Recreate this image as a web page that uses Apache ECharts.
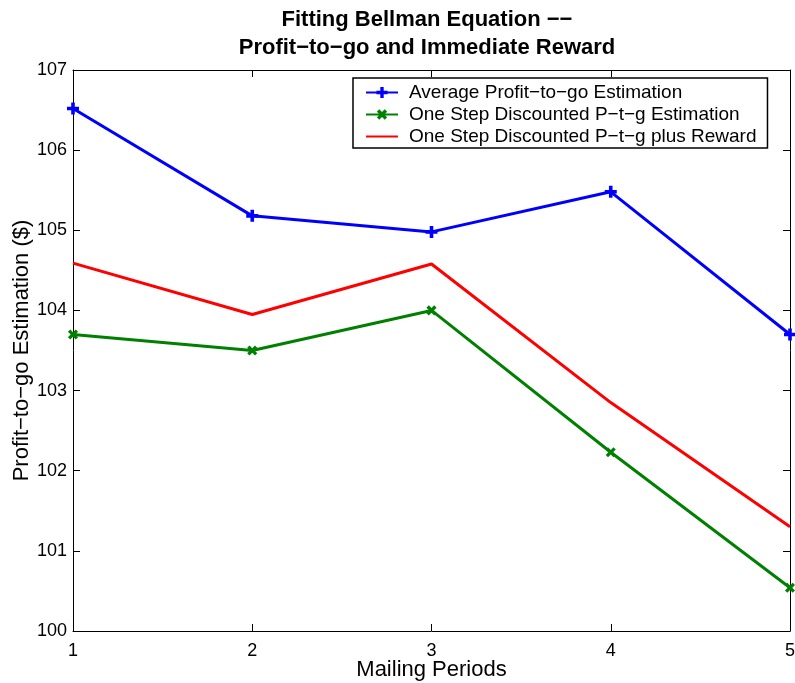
<!DOCTYPE html>
<html>
<head>
<meta charset="utf-8">
<script src="https://cdn.jsdelivr.net/npm/echarts@6/dist/echarts.min.js"></script>
<style>html,body{margin:0;padding:0;background:#fff}#c{width:795px;height:683px}</style>
</head>
<body>
<div id="c"></div>
<script>
const periods = [1, 2, 3, 4, 5];
const avgProfit = [106.52, 105.18, 104.98, 105.48, 103.70];
const oneStepEst = [103.70, 103.50, 104.00, 102.23, 100.54];
const oneStepPlusReward = [104.59, 103.95, 104.58, 102.85, 101.30];
const seriesNames = ['Average Profit\u2212to\u2212go Estimation', 'One Step Discounted P\u2212t\u2212g Estimation', 'One Step Discounted P\u2212t\u2212g plus Reward'];
const yTicks = [100, 101, 102, 103, 104, 105, 106, 107];

const pairs = (ys) => periods.map((x, i) => [x, ys[i]]);
const plusPath = 'path://M3.5,0 H6.5 V3.5 H10 V6.5 H6.5 V10 H3.5 V6.5 H0 V3.5 H3.5 Z';
const font = 'Liberation Sans, Arial, sans-serif';

const chart = echarts.init(document.getElementById('c'), null, {renderer: 'canvas'});
const axisLine = {show: true, lineStyle: {color: '#000', width: 1}};
const tickIn = {show: true, inside: true, length: 7, lineStyle: {color: '#000'}};
chart.setOption({
  animation: false,
  backgroundColor: '#fff',
  title: {
    text: 'Fitting Bellman Equation \u2212\u2212\nProfit\u2212to\u2212go and Immediate Reward',
    left: 422, top: 1, textAlign: 'center',
    textStyle: {fontFamily: font, fontSize: 22, fontWeight: 'bold', color: '#000', lineHeight: 28}
  },
  legend: {
    orient: 'vertical', left: 353, top: 78,
    padding: [5, 11, 2, 12], itemGap: 3, itemWidth: 32, itemHeight: 14,
    borderColor: '#000', borderWidth: 1.5, backgroundColor: '#fff',
    textStyle: {fontFamily: font, fontSize: 19, color: '#000', padding: [0, 0, 0, 6]},
    data: [
      {name: seriesNames[0]},
      {name: seriesNames[1]},
      {name: seriesNames[2], itemStyle: {opacity: 0}}
    ]
  },
  grid: {left: 73, right: 5, top: 70, bottom: 52, containLabel: false, outerBoundsMode: 'none'},
  xAxis: [{
    type: 'value', min: 1, max: 5, interval: 1,
    name: 'Mailing Periods', nameLocation: 'middle', nameGap: 28, nameMoveOverlap: false,
    nameTextStyle: {fontFamily: font, fontSize: 22, color: '#000'},
    axisLine: axisLine, axisTick: tickIn, splitLine: {show: false},
    axisLabel: {fontFamily: font, fontSize: 18, color: '#000', margin: 11}
  }, {
    type: 'value', min: 1, max: 5, interval: 1, position: 'top',
    axisLine: axisLine, axisTick: tickIn, splitLine: {show: false}, axisLabel: {show: false}
  }],
  yAxis: [{
    type: 'value', min: yTicks[0], max: yTicks[yTicks.length - 1], interval: 1,
    name: 'Profit\u2212to\u2212go Estimation ($)', nameLocation: 'middle', nameGap: 40, nameMoveOverlap: false,
    nameTextStyle: {fontFamily: font, fontSize: 22, color: '#000'},
    axisLine: axisLine, axisTick: tickIn, splitLine: {show: false},
    axisLabel: {fontFamily: font, fontSize: 18, color: '#000', margin: 6}
  }, {
    type: 'value', min: yTicks[0], max: yTicks[yTicks.length - 1], interval: 1, position: 'right',
    axisLine: axisLine, axisTick: tickIn, splitLine: {show: false}, axisLabel: {show: false}
  }],
  series: [{
    name: seriesNames[0], type: 'line', data: pairs(avgProfit),
    lineStyle: {color: '#0000ff', width: 3}, itemStyle: {color: '#0000ff'},
    symbol: plusPath, symbolSize: 12, showAllSymbol: true
  }, {
    name: seriesNames[1], type: 'line', data: pairs(oneStepEst),
    lineStyle: {color: '#008000', width: 3}, itemStyle: {color: '#008000'},
    symbol: plusPath, symbolSize: 11, symbolRotate: 45
  }, {
    name: seriesNames[2], type: 'line', data: pairs(oneStepPlusReward),
    lineStyle: {color: '#ff0000', width: 3}, itemStyle: {color: '#ff0000'},
    symbol: 'none'
  }]
});
</script>
</body>
</html>
